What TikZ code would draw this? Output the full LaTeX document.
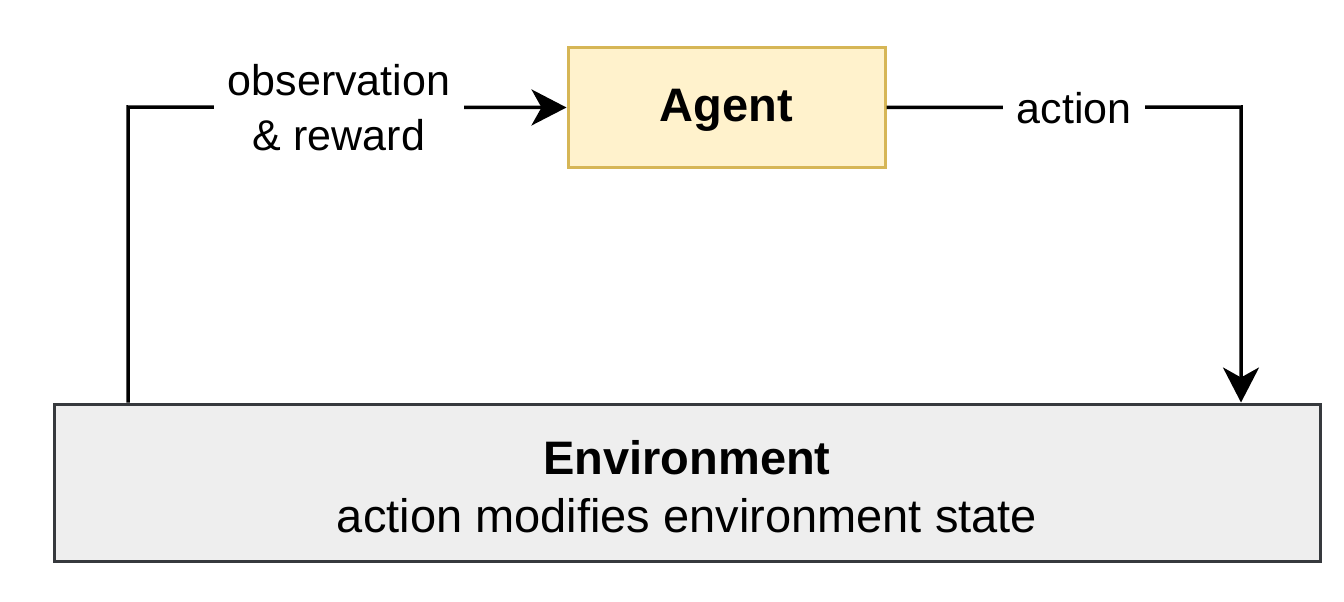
\documentclass[tikz,border=0pt]{standalone}
\usepackage{fontspec}
\setmainfont{Liberation Sans}
\usetikzlibrary{arrows.meta}
\definecolor{agentfill}{HTML}{FFF2CC}
\definecolor{agentdraw}{HTML}{D6B656}
\definecolor{envfill}{HTML}{EEEEEE}
\definecolor{envdraw}{HTML}{36393D}
\tikzset{
  boxbase/.style={rectangle, line width=3pt, inner sep=0pt, align=center},
  agentbox/.style={boxbase, fill=agentfill, draw=agentdraw, minimum width=317pt, minimum height=119pt},
  envbox/.style={boxbase, fill=envfill, draw=envdraw, minimum width=1266pt, minimum height=157pt},
  conn/.style={line width=3.5pt, -{Stealth[length=35pt, width=36pt, inset=10pt]}},
  lbl/.style={fill=white, inner xsep=14pt, inner ysep=4pt, align=center, font=\fontsize{43pt}{55pt}\selectfont}
}
\begin{document}
\begin{tikzpicture}[x=1pt,y=-1pt]
\useasboundingbox (0,0) rectangle (1344,602);
\node[agentbox] (agent) at (726.5,107.5) {};
\node[inner sep=0pt, font=\fontsize{47pt}{56pt}\selectfont\bfseries, yshift=-3pt] (agenttext) at (agent.center) {Agent};
\node[envbox] (env) at (687,482.5) {};
\node[inner sep=0pt, align=center, font=\fontsize{47pt}{58pt}\selectfont, yshift=-4pt] (envtext) at (env.center) {{\bfseries Environment}\\action modifies environment state};
\coordinate (lc) at (128,107);
\coordinate (rc) at (1241,107);
\draw[conn] (env.north -| lc) -- (lc) -- (agent.west);
\draw[conn] (agent.east) -- (rc) -- (env.north -| rc);
\node[lbl] (obs) at (339,108) {observation\\\& reward};
\node[lbl] (act) at (1074,108) {action};
\end{tikzpicture}
\end{document}
